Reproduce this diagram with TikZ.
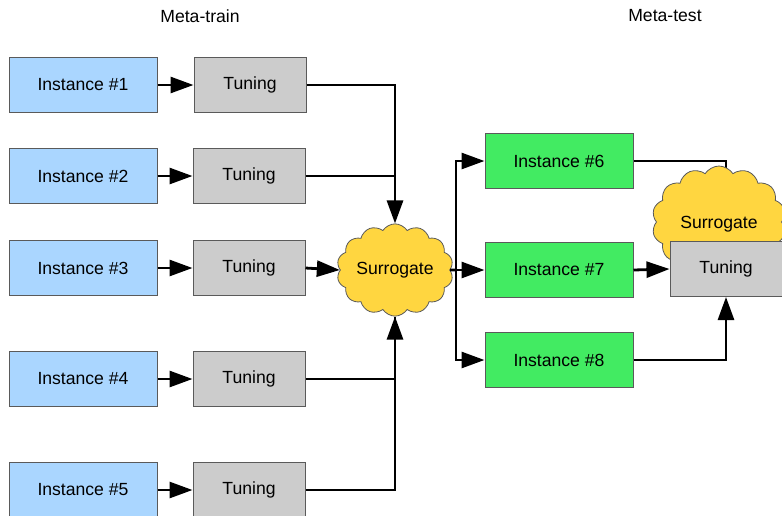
\documentclass[tikz,border=0pt]{standalone}
\usepackage{fontspec}
\setmainfont{Liberation Sans}
\usetikzlibrary{arrows.meta,shapes.symbols,backgrounds}
\definecolor{instblue}{RGB}{170,214,255}
\definecolor{instgreen}{RGB}{66,235,98}
\definecolor{tunegray}{RGB}{204,204,204}
\definecolor{cloudyellow}{RGB}{255,214,64}
\definecolor{edgegray}{RGB}{90,90,90}
\tikzset{
  box/.style={draw=edgegray, line width=1pt, minimum height=55pt, inner sep=0pt,
    font=\fontsize{17.6}{20}\selectfont},
  instbox/.style={box, minimum width=148pt, fill=instblue},
  testbox/.style={box, minimum width=148pt, fill=instgreen},
  tunebox/.style={box, minimum width=112pt, fill=tunegray},
  surr/.style={cloud, cloud puffs=14, cloud puff arc=115, draw=edgegray, line width=0.8pt,
    fill=cloudyellow, inner sep=0pt, font=\fontsize{17.6}{20}\selectfont},
  conn/.style={line width=2.8pt, black},
  arr/.style={conn, -{Triangle[length=23pt,width=16pt]}},
  title/.style={font=\fontsize{17.6}{20}\selectfont}
}
\begin{document}
\begin{tikzpicture}[x=1pt,y=-1pt]
\useasboundingbox (0,0) rectangle (782,515);
\clip (0,0) rectangle (782,515);

% column headings
\node[title] (h1) at (200,16) {Meta-train};
\node[title] (h2) at (665,16) {Meta-test};

% meta-train instances and their tuning runs
\node[instbox] (i1) at (83,85) {Instance \#1};
\node[instbox] (i2) at (83,176) {Instance \#2};
\node[instbox] (i3) at (83,268) {Instance \#3};
\node[instbox] (i4) at (83,379) {Instance \#4};
\node[instbox] (i5) at (83,490) {Instance \#5};

\node[tunebox] (t1) at (250,85) {Tuning};
\node[tunebox] (t2) at (249,176) {Tuning};
\node[tunebox] (t3) at (249,268) {Tuning};
\node[tunebox] (t4) at (249,379) {Tuning};
\node[tunebox] (t5) at (249,490) {Tuning};

\foreach \k in {1,...,5}{
  \draw[arr] (i\k.east) -- (t\k.west);
}

% shared surrogate
\node[surr, aspect=1.35, minimum width=110pt, minimum height=88pt] (s1) at (395,270) {Surrogate};

\draw[arr] (t1.east) -| (s1.north);
\draw[conn] (t2.east) -- (t2.east -| s1.north);
\draw[arr] (t3.east) -- (s1.west);
\draw[arr] (t4.east) -| (s1.south);
\draw[conn] (t5.east) -| (s1.south);

% meta-test instances
\node[testbox] (i6) at (559,161) {Instance \#6};
\node[testbox] (i7) at (559,270) {Instance \#7};
\node[testbox] (i8) at (559,360) {Instance \#8};

\coordinate (bus) at (456,270);
\draw[conn] (s1.east) -- (bus);
\draw[arr] (bus) |- (i6.west);
\draw[arr] (bus) -- (i7.west);
\draw[arr] (bus) |- (i8.west);

% surrogate-guided tuning
\node[surr, aspect=1.2, minimum width=134pt, minimum height=112pt, text depth=0pt] (s2) at (719,222) {Surrogate};
\node[tunebox] (t6) at (726,269) {Tuning};

\begin{scope}[on background layer]
  \draw[conn] (i6.east) -| (t6.north);
\end{scope}
\draw[arr] (i7.east) -- (t6.west);
\draw[arr] (i8.east) -| (t6.south);
\end{tikzpicture}
\end{document}
